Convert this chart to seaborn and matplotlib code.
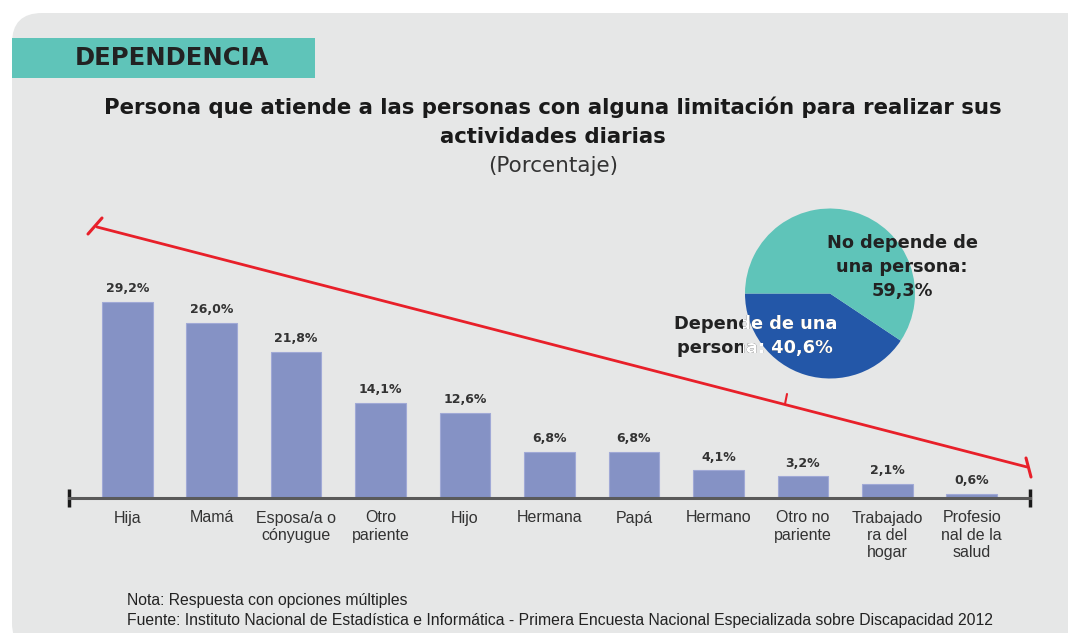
import matplotlib
matplotlib.use("Agg")
import matplotlib.pyplot as plt
from matplotlib.patches import FancyBboxPatch, Rectangle
import seaborn as sns
import pandas as pd

# datos
categorias = ["Hija", "Mamá", "Esposa/a o\ncónyugue", "Otro\npariente", "Hijo",
              "Hermana", "Papá", "Hermano", "Otro no\npariente",
              "Trabajado\nra del\nhogar", "Profesio\nnal de la\nsalud"]
porcentajes = [29.2, 26.0, 21.8, 14.1, 12.6, 6.8, 6.8, 4.1, 3.2, 2.1, 0.6]

pie_valores = [40.6, 59.3]
pie_textos = ["Depende de una\npersona: {}", "No depende de\nuna persona:\n{}"]

seccion = "DEPENDENCIA"
titulo = ["Persona que atiende a las personas con alguna limitación para realizar sus",
          "actividades diarias"]
subtitulo = "(Porcentaje)"
nota = "Nota: Respuesta con opciones múltiples"
fuente = ("Fuente: Instituto Nacional de Estadística e Informática - Primera Encuesta "
          "Nacional Especializada sobre Discapacidad 2012")

BAR = "#8592c5"
TEAL = "#5fc4b9"
BLUE = "#2357a8"
PANEL = "#e6e7e7"
RED = "#e8202a"
W, H = 1068, 633


def pct(v):
    return f"{v:.1f}".replace(".", ",") + "%"


def px(x, y, w, h):
    # rect en pixeles de imagen (origen arriba-izq) -> fraccion de figura
    return [x / W, 1 - (y + h) / H, w / W, h / H]


sns.set_theme(style="white")
plt.rcParams["font.family"] = ["DejaVu Sans"]

fig = plt.figure(figsize=(W / 100, H / 100), dpi=100)
fig.patch.set_facecolor("white")

# fondo, encabezado, titulos
bg = fig.add_axes([0, 0, 1, 1], zorder=0)
bg.set_xlim(0, W)
bg.set_ylim(H, 0)
bg.axis("off")
bg.add_patch(FancyBboxPatch((12, 13), 1120, 640, boxstyle="round,pad=0,rounding_size=30",
                            fc=PANEL, ec="none"))
bg.add_patch(Rectangle((12, 38), 303, 40, fc=TEAL, ec="none"))
bg.text(75, 58, seccion, fontsize=17.5, fontweight="bold", va="center", color="#222222")
bg.text(553, 107, titulo[0], fontsize=15.3, fontweight="bold", ha="center", va="center",
        color="#1a1a1a")
bg.text(553, 137, titulo[1], fontsize=15.3, fontweight="bold", ha="center", va="center",
        color="#1a1a1a")
bg.text(553, 166, subtitulo, fontsize=15.5, ha="center", va="center", color="#333333")

# linea roja decorativa
bg.plot([97, 1027], [227, 467], color=RED, lw=2)
bg.plot([88, 102], [234, 218], color=RED, lw=2.2)
bg.plot([1026, 1031], [458, 477], color=RED, lw=2.2)
bg.plot([785, 787], [404, 394], color=RED, lw=1.5)

bg.text(127, 600, nota, fontsize=11.3, family="Liberation Sans", va="center", color="#222222")
bg.text(127, 621, fuente, fontsize=11.3, family="Liberation Sans", va="center", color="#222222")

# barras
ymax = 37
ax = fig.add_axes(px(69, 498 - ymax * 6.72, 961, ymax * 6.72), zorder=2)
ax.patch.set_alpha(0)
df = pd.DataFrame({"categoria": categorias, "porcentaje": porcentajes})
sns.barplot(data=df, x="categoria", y="porcentaje", color=BAR, saturation=1, width=0.6,
            edgecolor="#a0a9d6", linewidth=0.8, ax=ax)
n = len(categorias)
ax.set_xlim(-0.69, n - 1 + 0.69)
ax.set_ylim(0, ymax)
ax.bar_label(ax.containers[0], labels=[pct(v) for v in porcentajes], padding=5,
             fontsize=9, fontweight="bold", color="#333333")
for s in ["top", "left", "right"]:
    ax.spines[s].set_visible(False)
ax.spines["bottom"].set_color("#5a5a5a")
ax.spines["bottom"].set_linewidth(2.2)
ax.set_yticks([])
ax.set_xlabel("")
ax.set_ylabel("")
ax.set_xticks([i + 0.5 for i in range(n - 1)], minor=True)
ax.tick_params(axis="x", which="major", length=0, pad=9, labelsize=11.5,
               labelcolor="#333333")
ax.tick_params(axis="x", which="minor", length=5, width=1.2, color="#5a5a5a",
               direction="out")
for lbl in ax.get_xticklabels():
    lbl.set_family("Liberation Sans")
    lbl.set_linespacing(1.2)
ax.plot(ax.get_xlim(), [0, 0], ls="none", marker="|", ms=13, mew=2.5,
        color="#1a1a1a", clip_on=False)

# torta
r = 86.7
pax = fig.add_axes(px(830 - r, 293.5 - r, 2 * r, 2 * r), zorder=3)
wedges, _ = pax.pie(pie_valores, colors=[BLUE, TEAL], startangle=180, counterclock=True,
                    wedgeprops=dict(linewidth=0))
pax.set_xlim(-1.02, 1.02)
pax.set_ylim(-1.02, 1.02)

no_dep = pie_textos[1].format(pct(pie_valores[1]))
pax.text(0.85, 0.31, no_dep, ha="center", va="center", fontsize=12.8, fontweight="bold",
         color="#222222", linespacing=1.45)
dep = pie_textos[0].format(pct(pie_valores[0]))
pax.text(-0.88, -0.5, dep, ha="center", va="center", fontsize=12.8, fontweight="bold",
         color="#222222", linespacing=1.45)
blanco = pax.text(-0.88, -0.5, dep, ha="center", va="center", fontsize=12.8,
                  fontweight="bold", color="white", linespacing=1.45, clip_on=True)
blanco.set_clip_path(wedges[0])

fig.savefig("out.png", dpi=100, facecolor="white")
